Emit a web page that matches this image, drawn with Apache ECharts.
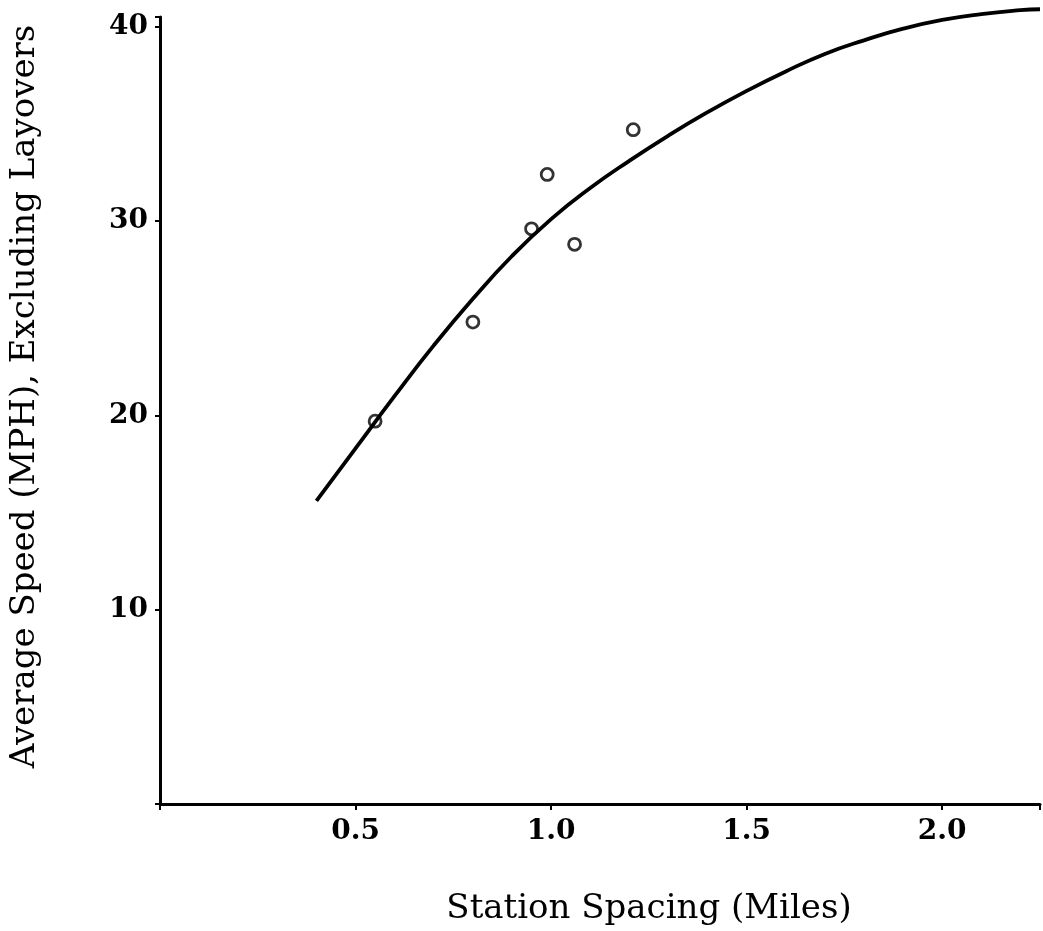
<!DOCTYPE html>
<html>
<head>
<meta charset="utf-8">
<script src="https://cdn.jsdelivr.net/npm/echarts@6/dist/echarts.min.js"></script>
<style>
  html, body { margin: 0; padding: 0; background: #fff; }
  #main { width: 1043px; height: 931px; }
</style>
</head>
<body>
<div id="main"></div>
<script>
// observed stations: spacing (miles) and average speed (mph)
var stationSpacing = [0.55, 0.80, 0.95, 0.99, 1.06, 1.21];
var stationSpeed = [19.7, 24.8, 29.6, 32.4, 28.8, 34.7];

// fitted curve
var curveX = [0.40, 0.50, 0.60, 0.70, 0.80, 0.90, 1.00, 1.10, 1.20, 1.30, 1.40, 1.50,
  1.60, 1.70, 1.80, 1.90, 2.00, 2.10, 2.20, 2.25];
var curveY = [15.6, 18.3, 21.0, 23.6, 26.0, 28.2, 30.1, 31.7, 33.1, 34.4, 35.6, 36.7,
  37.7, 38.6, 39.3, 39.9, 40.35, 40.65, 40.85, 40.9];

var xTicks = [0.5, 1.0, 1.5, 2.0];
var yTicks = [10, 20, 30, 40];

var dom = document.getElementById('main');
var myChart = echarts.init(dom, null, { renderer: 'canvas' });

var serif = '"DejaVu Serif", "Liberation Serif", serif';

var option = {
  backgroundColor: '#fff',
  animation: false,
  grid: {
    left: 159,
    right: 0,
    top: 17,
    bottom: 124
  },
  xAxis: {
    type: 'value',
    min: 0,
    max: 2.25,
    interval: 0.5,
    name: 'Station Spacing (Miles)',
    nameLocation: 'middle',
    nameGap: 88,
    nameTextStyle: {
      fontFamily: serif,
      fontSize: 34,
      color: '#000',
      padding: [0, 0, 0, 98]
    },
    axisLine: { lineStyle: { color: '#000', width: 3 } },
    axisTick: { length: 6, lineStyle: { color: '#000', width: 2 } },
    splitLine: { show: false },
    axisLabel: {
      margin: 14,
      fontFamily: serif,
      fontWeight: 'bold',
      fontSize: 28,
      color: '#000',
      formatter: function (v) {
        return xTicks.indexOf(v) >= 0 ? v.toFixed(1) : '';
      }
    }
  },
  yAxis: {
    type: 'value',
    min: 0,
    max: 40.5,
    interval: 10,
    name: 'Average Speed (MPH), Excluding Layovers',
    nameLocation: 'middle',
    nameRotate: 90,
    nameGap: 118,
    nameTextStyle: {
      fontFamily: serif,
      fontSize: 34,
      color: '#000',
      padding: [0, 0, 0, 28]
    },
    axisLine: { show: true, lineStyle: { color: '#000', width: 3 } },
    axisTick: { show: true, length: 5, lineStyle: { color: '#000', width: 2 } },
    splitLine: { show: false },
    axisLabel: {
      margin: 12,
      fontFamily: serif,
      fontWeight: 'bold',
      fontSize: 28,
      color: '#000',
      formatter: function (v) {
        return yTicks.indexOf(v) >= 0 ? String(v) : '';
      }
    }
  },
  series: [
    {
      name: 'Fit',
      type: 'line',
      smooth: true,
      showSymbol: false,
      clip: false,
      lineStyle: { color: '#000', width: 3.8 },
      data: curveX.map(function (x, i) { return [x, curveY[i]]; }),
      z: 2
    },
    {
      name: 'Stations',
      type: 'scatter',
      symbol: 'circle',
      symbolSize: 12,
      itemStyle: { color: 'rgba(0,0,0,0)', borderColor: '#000', borderWidth: 2.8 },
      data: stationSpacing.map(function (x, i) { return [x, stationSpeed[i]]; }),
      z: 3
    }
  ]
};

myChart.setOption(option);
window.addEventListener('resize', myChart.resize);
</script>
</body>
</html>
